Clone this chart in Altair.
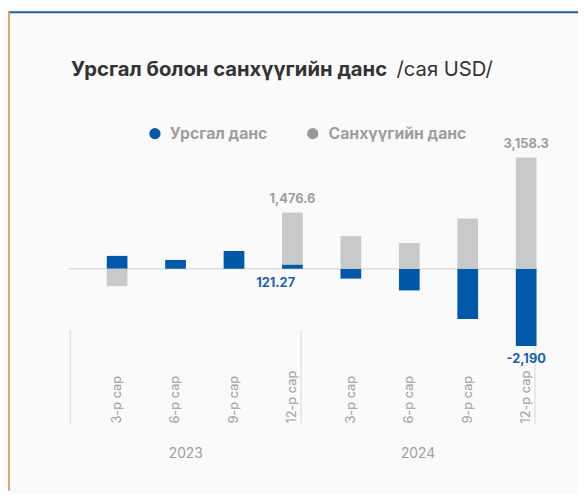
import altair as alt
import pandas as pd

# ---- data ----
years = ["2023", "2024"]
months = ["3-р сар", "6-р сар", "9-р сар", "12-р сар"]
series_names = ["Урсгал данс", "Санхүүгийн данс"]
current = [365, 250, 505, 121.27, -280, -615, -1430, -2190]
financial = [-495, 0, 0, 1476.6, 925, 730, 1430, 3158.3]
label_idx = [3, 7]
separators = [-0.8, 3.15, 7.15]

BLUE = "#0059A8"
GREY = "#C8C9CA"
LBLUE = "#1762AE"
LGREY = "#9E9E9E"
FONT = "Inter"

n = len(current)
rows = []
for i in range(n):
    rows.append({"idx": i, "series": series_names[0], "value": current[i], "ord": 0})
    rows.append({"idx": i, "series": series_names[1], "value": financial[i], "ord": 1})
df = pd.DataFrame(rows)

cat = pd.DataFrame({
    "idx": list(range(n)),
    "month": months * len(years),
})
yr = pd.DataFrame({
    "year": years,
    "xc": [(separators[k] + separators[k + 1]) / 2 for k in range(len(years))],
})
sep_df = pd.DataFrame({"x": separators})
zero_df = pd.DataFrame({"x": [separators[0] - 0.03], "x2": [separators[-1] + 0.03], "y": [0]})

grey_lab = pd.DataFrame({
    "idx": label_idx,
    "y": [financial[i] + max(current[i], 0) for i in label_idx],
    "txt": [f"{financial[i]:,.1f}" for i in label_idx],
})
blue_lab = pd.DataFrame({
    "idx": label_idx,
    "y": [min(current[i], 0) for i in label_idx],
    "txt": [f"{current[label_idx[0]]:,.2f}", f"{current[label_idx[1]]:,.0f}"],
})

xs = alt.Scale(domain=[-1.7828, 7.8026], nice=False, zero=False)
ys = alt.Scale(domain=[-6300, 7308], nice=False, zero=False)

bars = alt.Chart(df).mark_bar(size=21).encode(
    x=alt.X("idx:Q", scale=xs, axis=None),
    y=alt.Y("value:Q", stack="zero", scale=ys, axis=None),
    color=alt.Color("series:N", scale=alt.Scale(domain=series_names, range=[BLUE, GREY]), legend=None),
    order=alt.Order("ord:Q"),
)

zero = alt.Chart(zero_df).mark_rule(color="#DEDEDE", strokeWidth=1.5).encode(
    x=alt.X("x:Q", scale=xs, axis=None), x2="x2:Q", y=alt.Y("y:Q", scale=ys, axis=None)
)

seps = alt.Chart(sep_df).mark_rule(color="#E2E2E2", strokeWidth=1.5).encode(
    x=alt.X("x:Q", scale=xs, axis=None), y=alt.value(323), y2=alt.value(419)
)

month_txt = alt.Chart(cat).mark_text(angle=270, align="left", baseline="middle",
                                      fontSize=13, color=LGREY, font=FONT).encode(
    x=alt.X("idx:Q", scale=xs, axis=None), y=alt.value(418), text="month:N"
)

year_txt = alt.Chart(yr).mark_text(align="center", baseline="middle",
                                   fontSize=14, color=LGREY, font=FONT).encode(
    x=alt.X("xc:Q", scale=xs, axis=None), y=alt.value(449), text="year:N"
)

glab = alt.Chart(grey_lab).mark_text(align="center", baseline="middle", dy=-14,
                                     fontSize=13, fontWeight="bold", color=LGREY, font=FONT).encode(
    x=alt.X("idx:Q", scale=xs, axis=None), y=alt.Y("y:Q", scale=ys, axis=None), text="txt:N"
)
blab1 = alt.Chart(blue_lab.iloc[[0]]).mark_text(align="center", baseline="middle", dy=14, dx=-17,
                                                fontSize=13, fontWeight="bold", color=LBLUE, font=FONT).encode(
    x=alt.X("idx:Q", scale=xs, axis=None), y=alt.Y("y:Q", scale=ys, axis=None), text="txt:N"
)
blab2 = alt.Chart(blue_lab.iloc[[1]]).mark_text(align="center", baseline="middle", dy=13,
                                                fontSize=13, fontWeight="bold", color=LBLUE, font=FONT).encode(
    x=alt.X("idx:Q", scale=xs, axis=None), y=alt.Y("y:Q", scale=ys, axis=None), text="txt:N"
)

one = pd.DataFrame({"a": [0]})
title1 = alt.Chart(one).mark_text(align="left", baseline="alphabetic", fontSize=20.5, fontWeight="bold",
                                  color="#333333", font=FONT, text="Урсгал болон санхүүгийн данс").encode(
    x=alt.value(64), y=alt.value(66))
title2 = alt.Chart(one).mark_text(align="left", baseline="alphabetic", fontSize=20.5, fontWeight="normal",
                                  color="#333333", font=FONT, text="/сая USD/").encode(
    x=alt.value(394), y=alt.value(66))

leg_p1 = alt.Chart(one).mark_point(filled=True, shape="circle", size=130, color=BLUE, opacity=1).encode(
    x=alt.value(149), y=alt.value(124))
leg_t1 = alt.Chart(one).mark_text(align="left", baseline="middle", fontSize=16, fontWeight="bold",
                                  color=LGREY, font=FONT, text=series_names[0]).encode(
    x=alt.value(164), y=alt.value(124))
leg_p2 = alt.Chart(one).mark_point(filled=True, shape="circle", size=130, color="#999999", opacity=1).encode(
    x=alt.value(309), y=alt.value(124))
leg_t2 = alt.Chart(one).mark_text(align="left", baseline="middle", fontSize=16, fontWeight="bold",
                                  color=LGREY, font=FONT, text=series_names[1]).encode(
    x=alt.value(325), y=alt.value(124))

top_line = alt.Chart(one).mark_rule(color="#1A5FA8", strokeWidth=2).encode(
    x=alt.value(0), x2=alt.value(578), y=alt.value(1))
left_line = alt.Chart(one).mark_rule(color="#E0A46E", strokeWidth=2).encode(
    x=alt.value(1), y=alt.value(0), y2=alt.value(486))

chart = alt.layer(
    top_line, left_line, zero, seps, bars, month_txt, year_txt, glab, blab1, blab2,
    title1, title2, leg_p1, leg_t1, leg_p2, leg_t2
).properties(
    width=578, height=486, background="#FAFAFA", padding=0,
    autosize=alt.AutoSizeParams(type="none")
).configure_view(stroke=None)

chart.save("out.html", embed_options={"renderer": "svg", "actions": False})
